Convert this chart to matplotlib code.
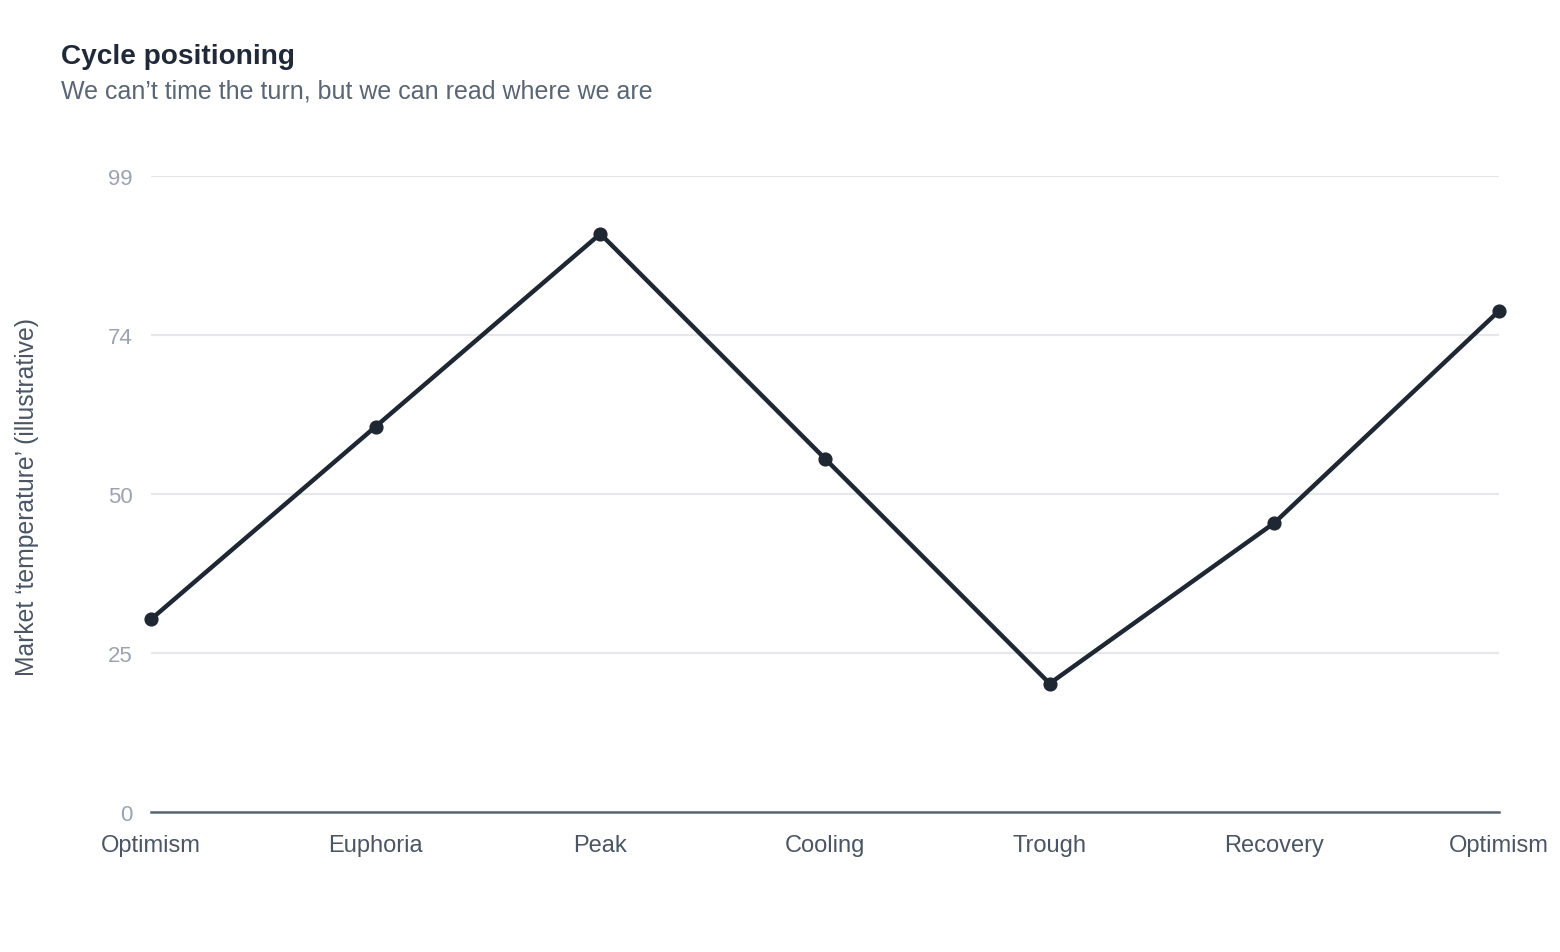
import matplotlib
matplotlib.use("Agg")
import matplotlib.pyplot as plt
import numpy as np

categories = ["Optimism", "Euphoria", "Peak", "Cooling", "Trough", "Recovery", "Optimism"]
temperature = [30, 60, 90, 55, 20, 45, 78]
y_max = 99
y_tick_count = 5

plt.rcParams['font.family'] = ['Liberation Sans', 'DejaVu Sans']

W, H = 1560, 953
fig = plt.figure(figsize=(W / 100, H / 100), dpi=100)
fig.patch.set_facecolor('white')

left, right, bottom, top = 151, 1499, 813, 177
ax = fig.add_axes([left / W, 1 - bottom / H, (right - left) / W, (bottom - top) / H])

x = list(range(len(categories)))
ax.plot(x, temperature, color='#1f2733', linewidth=3.2, marker='o', markersize=9.2,
        solid_joinstyle='miter', clip_on=False, zorder=3)

y_ticks = np.linspace(0, y_max, y_tick_count)
ax.set_xlim(0, len(categories) - 1)
ax.set_ylim(0, y_max)
ax.set_xticks(x)
ax.set_xticklabels(categories)
ax.set_yticks(y_ticks)
ax.set_yticklabels([str(int(np.floor(v + 0.5))) for v in y_ticks])

ax.tick_params(axis='x', length=0, pad=16, labelsize=17, labelcolor='#4b5563')
ax.tick_params(axis='y', length=0, pad=13, labelsize=16, labelcolor='#9ca3af')

ax.grid(axis='y', color='#e5e7eb', linewidth=1.5)
ax.grid(axis='x', visible=False)
ax.set_axisbelow(True)
for s in ['top', 'right', 'left']:
    ax.spines[s].set_visible(False)
ax.spines['bottom'].set_color('#5a6573')
ax.spines['bottom'].set_linewidth(1.8)
ax.spines['bottom'].set_zorder(2)

fig.text(27 / W, 1 - 497 / H, "Market \u2018temperature\u2019 (illustrative)", fontsize=17.8,
         color='#4b5563', rotation=90, ha='center', va='center')

fig.text(61 / W, 1 - 64 / H, "Cycle positioning", fontsize=20.2, fontweight='bold',
         color='#1f2937', va='baseline', ha='left')
fig.text(61 / W, 1 - 99 / H, "We can\u2019t time the turn, but we can read where we are",
         fontsize=18, color='#5b6675', va='baseline', ha='left')

fig.savefig("out.png", dpi=100, facecolor='white')
